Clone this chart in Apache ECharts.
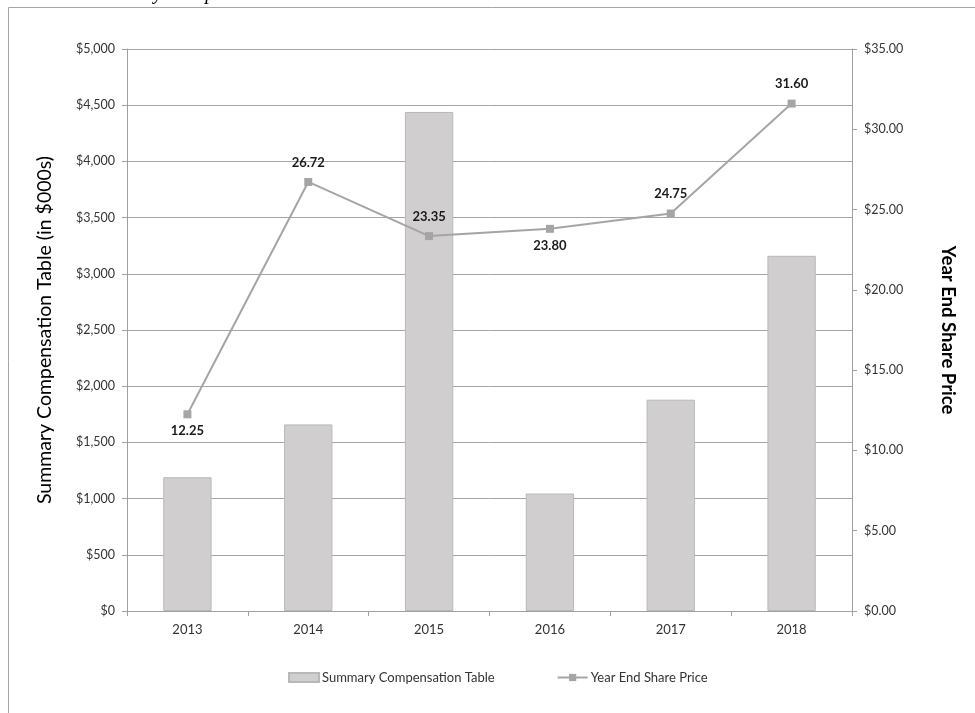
<!DOCTYPE html>
<html><head><meta charset="utf-8">
<script src="https://cdn.jsdelivr.net/npm/echarts@6/dist/echarts.min.js"></script>
<style>html,body{margin:0;padding:0;background:#fff}#c{width:975px;height:713px}</style>
</head><body><div id="c"></div>
<script>
const years = ['2013','2014','2015','2016','2017','2018'];
const compensation = [1190, 1660, 4440, 1045, 1880, 3160];
const sharePrice = [12.25, 26.72, 23.35, 23.80, 24.75, 31.60];
const priceLabelPos = ['bottom','top','top','bottom','top','top'];

const FONT = 'Lato';
const chart = echarts.init(document.getElementById('c'));
chart.setOption({
  animation: false,
  textStyle: {fontFamily: FONT},
  graphic: [
    {type:'rect', shape:{x:8.5, y:7.5, width:1200, height:1200}, style:{fill:'none', stroke:'#a6a6a6', lineWidth:1}, silent:true},
    {type:'text', x:87, y:-6, style:{text:'Summary Compensation Table', font:'italic 20px "Liberation Serif"', fill:'#000', verticalAlign:'middle'}}
  ],
  grid: {left:127, right:123, top:49, bottom:102},
  legend: {
    left: 283, top: 666, itemGap: 62, itemWidth: 30, itemHeight: 9,
    textStyle: {fontSize: 13, color:'#333', fontFamily: FONT, padding:[0,0,0,-2]},
    data: [
      {name:'Summary Compensation Table', icon:'rect'},
      {name:'Year End Share Price'}
    ]
  },
  xAxis: {
    type:'category', data: years,
    axisLine:{lineStyle:{color:'#a0a0a0'}},
    axisTick:{show:true, length:5, lineStyle:{color:'#a0a0a0'}},
    axisLabel:{fontSize:13, color:'#333', margin:12}
  },
  yAxis: [
    {
      type:'value', min:0, max:5000, interval:500, position:'left',
      name:'Summary Compensation Table (in $000s)', nameLocation:'middle', nameGap:72,
      nameTextStyle:{fontSize:19.5, color:'#000', fontFamily: FONT},
      axisLine:{show:true, lineStyle:{color:'#a0a0a0'}},
      axisTick:{show:true, length:5, lineStyle:{color:'#a0a0a0'}},
      splitLine:{lineStyle:{color:'#a6a6a6'}},
      axisLabel:{fontSize:12.5, color:'#333', margin:12,
        formatter: v => '$' + v.toLocaleString('en-US')}
    },
    {
      type:'value', min:0, max:35, interval:5, position:'right',
      name:'Year End Share Price', nameLocation:'middle', nameGap:86, nameRotate:-90,
      nameTextStyle:{fontSize:18.5, fontWeight:'bold', color:'#000', fontFamily: FONT},
      axisLine:{show:true, lineStyle:{color:'#a0a0a0'}},
      axisTick:{show:true, length:5, lineStyle:{color:'#a0a0a0'}},
      splitLine:{show:false},
      axisLabel:{fontSize:12.5, color:'#333', margin:12,
        formatter: v => '$' + v.toFixed(2)}
    }
  ],
  series: [
    {
      name:'Summary Compensation Table', type:'bar', yAxisIndex:0,
      data: compensation, barWidth:'40%',
      itemStyle:{color:'#d0cece', borderColor:'#b8b8b8', borderWidth:1}
    },
    {
      name:'Year End Share Price', type:'line', yAxisIndex:1,
      data: sharePrice.map((v,i)=>({value:v, label:{position:priceLabelPos[i], distance: priceLabelPos[i]==='top'?9:6}})),
      symbol:'rect', symbolSize:8,
      lineStyle:{color:'#a5a5a5', width:2},
      itemStyle:{color:'#a5a5a5'},
      label:{show:true, fontSize:13, fontWeight:'bold', color:'#1a1a1a',
        formatter: p => p.value.toFixed(2)}
    }
  ]
});
</script></body></html>
